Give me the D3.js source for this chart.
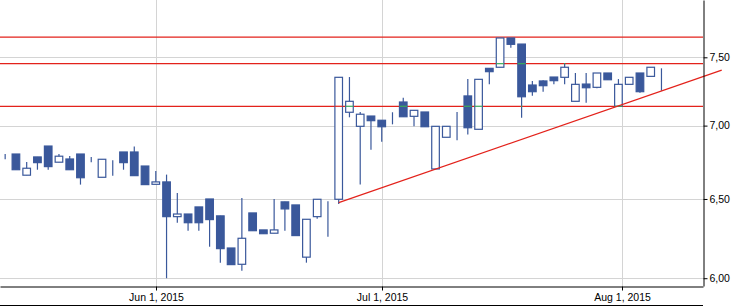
<!DOCTYPE html>
<html>
<head>
<meta charset="utf-8">
<title>Candlestick Chart</title>
<script src="https://cdnjs.cloudflare.com/ajax/libs/d3/7.8.5/d3.min.js"></script>
<style>
  body { margin: 0; background: #fff; }
  svg { display: block; font-family: "Liberation Sans", Arial, sans-serif; font-size: 10.5px; }
  .grid line { stroke: #d4d4d4; stroke-width: 1; }
  .level { stroke: #e3221b; stroke-width: 1.2; }
  .trend { stroke: #e3221b; stroke-width: 1.2; fill: none; }
  .wick { stroke: #3a589b; stroke-width: 1.2; }
  .body { stroke: #3a589b; stroke-width: 1.2; }
  .touch { stroke: #3cab5a; stroke-width: 1.2; }
  .axis path, .axis line, .sep { stroke: #000; stroke-width: 1; }
  .axis text { fill: #000; }
</style>
</head>
<body>
<script>
// trading days shown
const dates = [
  "2015-05-11","2015-05-12","2015-05-13","2015-05-14","2015-05-15",
  "2015-05-18","2015-05-19","2015-05-20","2015-05-21","2015-05-22",
  "2015-05-26","2015-05-27","2015-05-28","2015-05-29",
  "2015-06-01","2015-06-02","2015-06-03","2015-06-05",
  "2015-06-08","2015-06-09","2015-06-10","2015-06-11","2015-06-12",
  "2015-06-15","2015-06-16","2015-06-17","2015-06-18","2015-06-19",
  "2015-06-22","2015-06-23","2015-06-24","2015-06-25","2015-06-26",
  "2015-06-29","2015-06-30",
  "2015-07-01","2015-07-02","2015-07-03",
  "2015-07-06","2015-07-07","2015-07-08","2015-07-09","2015-07-10",
  "2015-07-13","2015-07-14","2015-07-15","2015-07-16","2015-07-17",
  "2015-07-20","2015-07-21","2015-07-22","2015-07-23","2015-07-24",
  "2015-07-27","2015-07-28","2015-07-29","2015-07-30","2015-07-31",
  "2015-08-03","2015-08-04","2015-08-05","2015-08-06"
];

const open = [
  6.766, 6.802, 6.658, 6.782, 6.857, 6.746, 6.768, 6.802, 6.746, 6.644,
  6.759, 6.816, 6.816, 6.720, 6.597, 6.613, 6.385, 6.402, 6.448, 6.500,
  6.390, 6.186, 6.085, 6.409, 6.300, 6.279, 6.481, 6.461, 6.129, 6.385,
  6.485, 6.498, 7.095, 6.995, 7.068, 7.038, 7.042, 7.169, 7.066, 7.097,
  6.700, 6.918, 6.995, 7.213, 6.974, 7.417, 7.425, 7.648, 7.601, 7.293,
  7.323, 7.352, 7.350, 7.174, 7.300, 7.276, 7.382, 7.138, 7.298, 7.382,
  7.357, 7.417
];
const high = [
  6.802, 6.802, 6.748, 6.782, 6.857, 6.802, 6.789, 6.802, 6.782, 6.766,
  6.759, 6.816, 6.853, 6.720, 6.687, 6.662, 6.540, 6.402, 6.448, 6.500,
  6.390, 6.186, 6.507, 6.409, 6.300, 6.500, 6.481, 6.461, 6.368, 6.498,
  6.485, 7.350, 7.352, 7.097, 7.068, 7.038, 7.095, 7.200, 7.109, 7.097,
  6.995, 6.995, 7.097, 7.337, 7.335, 7.417, 7.648, 7.648, 7.601, 7.323,
  7.328, 7.352, 7.455, 7.382, 7.382, 7.382, 7.382, 7.337, 7.350, 7.382,
  7.425, 7.417
];
const low = [
  6.766, 6.695, 6.658, 6.695, 6.695, 6.746, 6.695, 6.595, 6.746, 6.644,
  6.655, 6.695, 6.655, 6.595, 6.597, 6.000, 6.346, 6.295, 6.295, 6.194,
  6.095, 6.083, 6.046, 6.295, 6.276, 6.279, 6.295, 6.264, 6.095, 6.372,
  6.257, 6.467, 7.059, 6.595, 6.832, 6.887, 7.009, 7.063, 6.995, 6.992,
  6.700, 6.918, 6.897, 6.938, 6.974, 7.298, 7.425, 7.573, 7.056, 7.215,
  7.244, 7.298, 7.298, 7.174, 7.164, 7.269, 7.332, 7.138, 7.298, 7.237,
  7.357, 7.251
];
const close = [
  6.766, 6.695, 6.705, 6.743, 6.716, 6.787, 6.695, 6.641, 6.746, 6.766,
  6.759, 6.743, 6.655, 6.595, 6.613, 6.385, 6.402, 6.346, 6.346, 6.366,
  6.182, 6.083, 6.247, 6.295, 6.276, 6.300, 6.435, 6.264, 6.368, 6.498,
  6.485, 7.350, 7.174, 7.081, 7.035, 6.992, 7.042, 7.063, 7.109, 6.992,
  6.995, 6.995, 6.995, 6.985, 7.335, 7.392, 7.648, 7.599, 7.207, 7.244,
  7.288, 7.325, 7.425, 7.298, 7.273, 7.382, 7.332, 7.298, 7.350, 7.244,
  7.425, 7.417
];

// horizontal resistance / support levels
const levels = [7.655, 7.452, 7.138];
// candles where the level stays red (no green crossing mark)
const noTouch = [31];
// trend line anchors (candle index, price)
const trendIndex = [31, 66.6];
const trendValue = [6.476, 7.404];

const yTicks = [6, 6.5, 7, 7.5];
const xTickDates = ["2015-06-01", "2015-07-01", "2015-08-01"];
const xTickLabels = ["Jun 1, 2015", "Jul 1, 2015", "Aug 1, 2015"];

const width = 743, height = 307;
const plotW = 703, plotH = 286;

const parse = d3.utcParse("%Y-%m-%d");
const days = dates.map(parse);
const candles = dates.map((d, i) => ({
  i: i, o: open[i], h: high[i], l: low[i], c: close[i]
}));

// tick position in candle units, interpolated in calendar time between trading days
function tickPos(s) {
  const t = parse(s);
  let i = d3.bisectRight(days, t) - 1;
  if (i < 0) return 0;
  if (i >= days.length - 1) return days.length - 1;
  return i + (t - days[i]) / (days[i + 1] - days[i]);
}
const xTicks = xTickDates.map(tickPos);

const x = d3.scaleLinear().domain([-0.48, dates.length + 2.86]).range([0, plotW]);
const y = d3.scaleLog().domain([5.953, 7.947]).range([plotH, 0]);

const fmt = d3.formatLocale({decimal: ",", thousands: ".", grouping: [3], currency: ["", ""]}).format(".2f");

const svg = d3.select("body").append("svg")
  .attr("width", width)
  .attr("height", height);

// grid
const grid = svg.append("g").attr("class", "grid");
grid.selectAll(".gy").data(yTicks).enter().append("line")
  .attr("x1", 0).attr("x2", plotW)
  .attr("y1", d => Math.round(y(d)) + 0.5)
  .attr("y2", d => Math.round(y(d)) + 0.5);
grid.selectAll(".gx").data(xTicks).enter().append("line")
  .attr("y1", 0).attr("y2", plotH)
  .attr("x1", d => Math.round(x(d)) + 0.5)
  .attr("x2", d => Math.round(x(d)) + 0.5);

// red horizontal levels
svg.selectAll(".level").data(levels).enter().append("line")
  .attr("class", "level")
  .attr("x1", 0).attr("x2", plotW)
  .attr("y1", d => y(d)).attr("y2", d => y(d));

// candles
const bodyW = 7.6;
const g = svg.append("g");
g.selectAll(".wick").data(candles).enter().append("line")
  .attr("class", "wick")
  .attr("x1", d => x(d.i)).attr("x2", d => x(d.i))
  .attr("y1", d => y(d.h)).attr("y2", d => y(d.l));
g.selectAll(".body").data(candles).enter().append("rect")
  .attr("class", "body")
  .attr("x", d => x(d.i) - bodyW / 2)
  .attr("width", bodyW)
  .attr("y", d => y(Math.max(d.o, d.c)))
  .attr("height", d => Math.abs(y(d.o) - y(d.c)))
  .attr("fill", d => d.c >= d.o ? "#fff" : "#3a589b");

// the big breakout candle lets the red line show through its body
const through = [];
// where a level runs through a candle it shows green
const touches = [];
levels.forEach(v => {
  candles.forEach(d => {
    if (v < d.l || v > d.h) return;
    const inBody = v >= Math.min(d.o, d.c) && v <= Math.max(d.o, d.c);
    if (noTouch.includes(d.i)) {
      if (inBody) through.push({i: d.i, v: v});
      return;
    }
    touches.push({i: d.i, v: v, w: inBody ? bodyW : 1.2});
  });
});
g.selectAll(".through").data(through).enter().append("line")
  .attr("class", "level")
  .attr("x1", d => x(d.i) - bodyW / 2).attr("x2", d => x(d.i) + bodyW / 2)
  .attr("y1", d => y(d.v)).attr("y2", d => y(d.v));
g.selectAll(".touch").data(touches).enter().append("line")
  .attr("class", "touch")
  .attr("x1", d => x(d.i) - d.w / 2).attr("x2", d => x(d.i) + d.w / 2)
  .attr("y1", d => y(d.v)).attr("y2", d => y(d.v));

// trend line
svg.append("path")
  .attr("class", "trend")
  .attr("d", d3.line().x(d => x(d[0])).y(d => y(d[1]))(d3.zip(trendIndex, trendValue)));

// axes
svg.append("g")
  .attr("class", "axis")
  .attr("transform", `translate(${plotW + 0.5},0)`)
  .call(d3.axisRight(y).tickValues(yTicks).tickFormat(fmt).tickSize(4).tickSizeOuter(0).tickPadding(2));

svg.append("g")
  .attr("class", "axis")
  .attr("transform", `translate(0,${plotH + 0.5})`)
  .call(d3.axisBottom(x).tickValues(xTicks).tickFormat((d, i) => xTickLabels[i]).tickSize(4).tickSizeOuter(0))
  .call(a => a.selectAll(".tick").attr("transform", d => `translate(${Math.round(x(d)) + 0.5},0)`));

svg.selectAll(".axis").attr("font-size", null).attr("font-family", null);

// separator of the panel below
svg.append("line")
  .attr("class", "sep")
  .attr("x1", 0).attr("x2", plotW)
  .attr("y1", 305.5).attr("y2", 305.5);
</script>
</body>
</html>
